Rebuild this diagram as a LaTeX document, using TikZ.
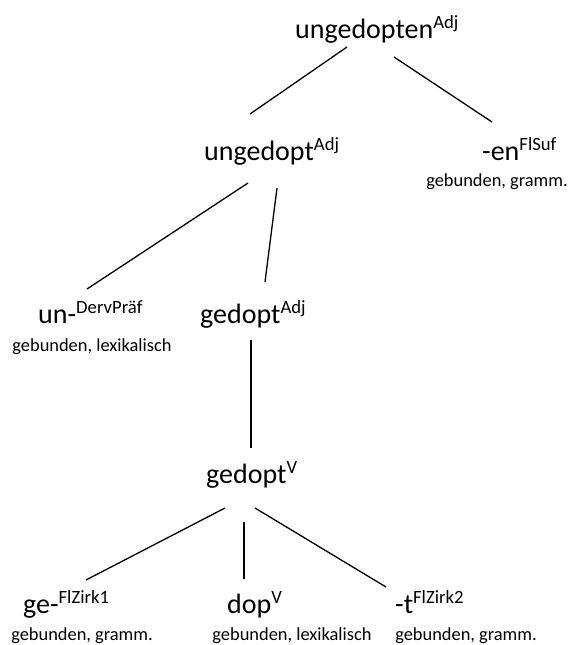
\documentclass[tikz,border=0pt]{standalone}
\usepackage{fontspec}
\setmainfont{Carlito}
\newcommand\hochtext[1]{\raisebox{9.5pt}{\fontsize{18.7}{20}\selectfont #1}}
\tikzset{
  word/.style={inner sep=0pt, anchor=base west, font=\fontsize{28}{32}\selectfont},
  info/.style={inner sep=0pt, anchor=base, font=\fontsize{18.4}{22}\selectfont},
  branch/.style={line width=1.3pt, black}
}
\begin{document}
\begin{tikzpicture}[x=1pt,y=-1pt]
\useasboundingbox (0,0) rectangle (585,645);
% words
\node[word] (w1) at (295,38) {ungedopten\hochtext{Adj}};
\node[word] (w2) at (204,160) {ungedopt\hochtext{Adj}};
\node[word] (w3) at (482,160) {-en\hochtext{FlSuf}};
\node[info] (i3) at (497,186) {gebunden, gramm.};
\node[word] (w4) at (38,323) {un-\hochtext{DervPräf}};
\node[info] (i4) at (92,351) {gebunden, lexikalisch};
\node[word] (w5) at (200,323) {gedopt\hochtext{Adj}};
\node[word] (w6) at (206,483) {gedopt\hochtext{V}};
\node[word] (w7) at (23,613) {ge-\hochtext{FlZirk1}};
\node[info] (i7) at (82,640) {gebunden, gramm.};
\node[word] (w8) at (227,613) {dop\hochtext{V}};
\node[info] (i8) at (292,640) {gebunden, lexikalisch};
\node[word] (w9) at (395,613) {-t\hochtext{FlZirk2}};
\node[info] (i9) at (466,640) {gebunden, gramm.};
% connector ends
\coordinate (w1l) at (347,47);  \coordinate (w2t) at (250,114);
\coordinate (w1r) at (394,57);  \coordinate (w3t) at (492,122);
\coordinate (w2l) at (248,183); \coordinate (w4t) at (87,289);
\coordinate (w2r) at (277,188); \coordinate (w5t) at (265,282);
\coordinate (w5b) at (251,340); \coordinate (w6t) at (251,448);
\coordinate (w6l) at (225,508); \coordinate (w7t) at (86,580);
\coordinate (w6m) at (244,522); \coordinate (w8t) at (244,579);
\coordinate (w6r) at (255,508); \coordinate (w9t) at (386,587);
\draw[branch] (w1l) -- (w2t);
\draw[branch] (w1r) -- (w3t);
\draw[branch] (w2l) -- (w4t);
\draw[branch] (w2r) -- (w5t);
\draw[branch] (w5b) -- (w6t);
\draw[branch] (w6l) -- (w7t);
\draw[branch] (w6m) -- (w8t);
\draw[branch] (w6r) -- (w9t);
\end{tikzpicture}
\end{document}
